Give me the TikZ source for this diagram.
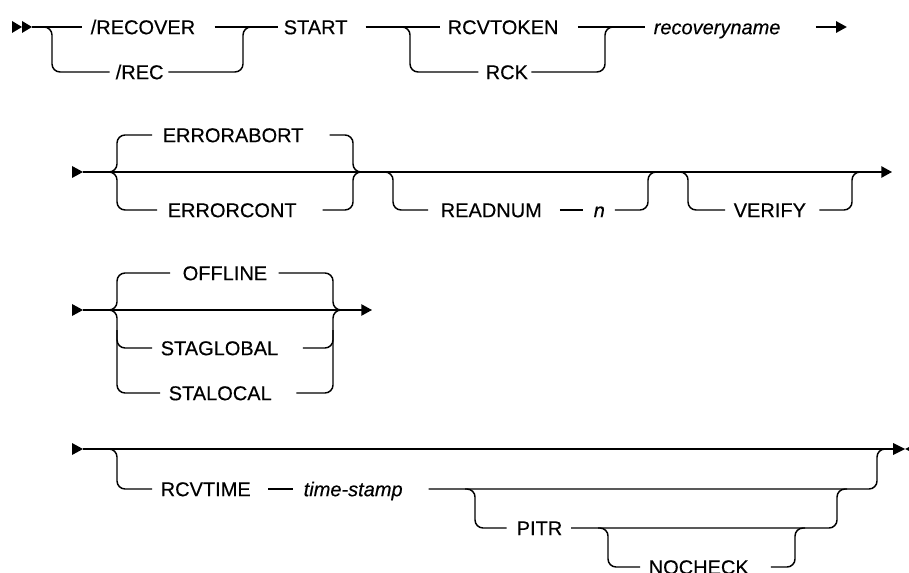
\documentclass[tikz,border=0pt]{standalone}
\usepackage{fontspec}
\setmainfont{Liberation Sans}[FakeBold=0.35, AutoFakeBold=0.35]
\usepackage{tikz}
\usetikzlibrary{arrows.meta}
\newcommand{\railfont}{\fontsize{15}{18}\selectfont}
\tikzset{
  rail/.style={rounded corners=6pt},
  kw/.style={anchor=west, inner sep=0pt, text height=10.8pt,
    text depth=0pt, font=\railfont\bfseries},
  var/.style={kw, font=\railfont\bfseries\itshape},
  tip/.style={-{Triangle[length=8pt,width=8.5pt]}}
}

\begin{document}
\begin{tikzpicture}[x=0.75pt, y=-0.75pt, line width=1.1pt]
  \useasboundingbox (0,0) rectangle (909,573);

  % Row 1: command and recovery name
  \fill (12,21) -- (22,27) -- (12,33) -- cycle;
  \fill (22,21) -- (32,27) -- (22,33) -- cycle;
  \coordinate (in1) at (32,27);
  \node[kw] (recover) at (90,27) {/RECOVER};
  \node[kw] (rec) at (115,72) {/REC};
  \node[kw] (start) at (283,27) {START};
  \node[kw] (rcvtoken) at (447,27) {RCVTOKEN};
  \node[kw] (rck) at (485,72) {RCK};
  \node[var] (recname) at (653,27) {recoveryname};
  \coordinate (sp1) at (52,27);
  \coordinate (mg1) at (243,27);
  \coordinate (sp2) at (410,27);
  \coordinate (mg2) at (605,27);

  \draw (in1) -- ([xshift=-6pt]recover.west);
  \draw[rail] (in1) -- (sp1) |- ([xshift=-4pt]rec.west);
  \draw ([xshift=14pt]recover.east) -- ([xshift=-4pt]start.west);
  \draw[rail] ([xshift=3pt]rec.east) -| (mg1) -- ++(10,0);
  \draw ([xshift=13pt]start.east) -- ([xshift=-5pt]rcvtoken.west);
  \draw[rail] (sp2) ++(-10,0) -- (sp2) |- ([xshift=-5pt]rck.west);
  \draw ([xshift=14pt]rcvtoken.east) -- ([xshift=-6pt]recname.west);
  \draw[rail] ([xshift=2pt]rck.east) -| (mg2) -- ++(10,0);
  \draw[tip] ([xshift=26pt]recname.east) -- ++(31,0);

  % Row 2: error handling, READNUM, VERIFY
  \fill (72,166) -- (83,172) -- (72,178) -- cycle;
  \coordinate (in2) at (83,172);
  \coordinate (out2) at (892,172);
  \node[kw] (errabort) at (162,135) {ERRORABORT};
  \node[kw] (errcont) at (167,210) {ERRORCONT};
  \node[kw] (readnum) at (440,210) {READNUM};
  \node[var] (n) at (593,210) {n};
  \node[kw] (verify) at (733,210) {VERIFY};
  \coordinate (sp3) at (117,172);
  \coordinate (mg3) at (353,172);
  \coordinate (sp4) at (393,172);
  \coordinate (mg4) at (648,172);
  \coordinate (sp5) at (688,172);
  \coordinate (mg5) at (852,172);

  \draw[tip] (in2) -- (out2);
  \draw[rail] (sp3) ++(-10,0) -- (sp3) |- ([xshift=-7.5pt]errabort.west);
  \draw[rail] ([xshift=19pt]errabort.east) -| (mg3) -- ++(10,0);
  \draw[rail] (sp3) ++(-10,0) -- (sp3) |- ([xshift=-7.5pt]errcont.west);
  \draw[rail] ([xshift=19pt]errcont.east) -| (mg3) -- ++(10,0);
  \draw[rail] (sp4) ++(-10,0) -- (sp4) |- ([xshift=-9pt]readnum.west);
  \draw ([xshift=13pt]readnum.east) -- ([xshift=-7.5pt]n.west);
  \draw[rail] ([xshift=7pt]n.east) -| (mg4) -- ++(10,0);
  \draw[rail] (sp5) ++(-10,0) -- (sp5) |- ([xshift=-6pt]verify.west);
  \draw[rail] ([xshift=9.5pt]verify.east) -| (mg5) -- ++(10,0);

  % Row 3: OFFLINE / STAGLOBAL / STALOCAL
  \fill (72,304) -- (83,310) -- (72,316) -- cycle;
  \coordinate (in3) at (83,310);
  \coordinate (out3) at (372,310);
  \node[kw] (offline) at (182,273) {OFFLINE};
  \node[kw] (staglobal) at (160,348) {STAGLOBAL};
  \node[kw] (stalocal) at (168,393) {STALOCAL};
  \coordinate (sp6) at (117,310);
  \coordinate (mg6) at (333,310);

  \draw[tip] (in3) -- (out3);
  \draw[rail] (sp6) ++(-10,0) -- (sp6) |- ([xshift=-9pt]offline.west);
  \draw[rail] ([xshift=8pt]offline.east) -| (mg6) -- ++(10,0);
  \draw[rail] (sp6) ++(-10,0) -- (sp6) |- ([xshift=-6pt]staglobal.west);
  \draw[rail] ([xshift=18pt]staglobal.east) -| (mg6) -- ++(10,0);
  \draw[rail] (117,330) |- ([xshift=-6pt]stalocal.west);
  \draw[rail] ([xshift=18pt]stalocal.east) -| (333,330);

  % Row 4: RCVTIME, PITR, NOCHECK
  \fill (72,443) -- (83,449) -- (72,455) -- cycle;
  \coordinate (in4) at (83,449);
  \coordinate (out4) at (893,449);
  \node[kw] (rcvtime) at (160,489) {RCVTIME};
  \node[var] (tstamp) at (303,489) {time-stamp};
  \node[kw] (pitr) at (516,528) {PITR};
  \node[kw] (nocheck) at (648,567) {NOCHECK};
  \coordinate (sp7) at (117,449);
  \coordinate (mg7) at (877,449);
  \coordinate (sp8) at (475,489);
  \coordinate (mg8) at (837,489);
  \coordinate (sp9) at (608,528);
  \coordinate (mg9) at (795,528);

  \draw (in4) -- (out4);
  \fill (893,443) -- (905,449) -- (893,455) -- cycle;
  \fill (917,443) -- (905,449) -- (917,455) -- cycle;
  \draw[rail] (sp7) ++(-10,0) -- (sp7) |- ([xshift=-6pt]rcvtime.west);
  \draw ([xshift=12.5pt]rcvtime.east) -- ([xshift=-7.5pt]tstamp.west);
  \draw[rail] ([xshift=19pt]tstamp.east) -| (mg7) -- ++(10,0);
  \draw[rail] (sp8) ++(-10,0) -- (sp8) |- ([xshift=-7pt]pitr.west);
  \draw[rail] ([xshift=6pt]pitr.east) -| (mg8) -- ++(10,0);
  \draw[rail] (sp9) ++(-10,0) -- (sp9) |- ([xshift=-6pt]nocheck.west);
  \draw[rail] ([xshift=16pt]nocheck.east) -| (mg9) -- ++(10,0);
\end{tikzpicture}
\end{document}
